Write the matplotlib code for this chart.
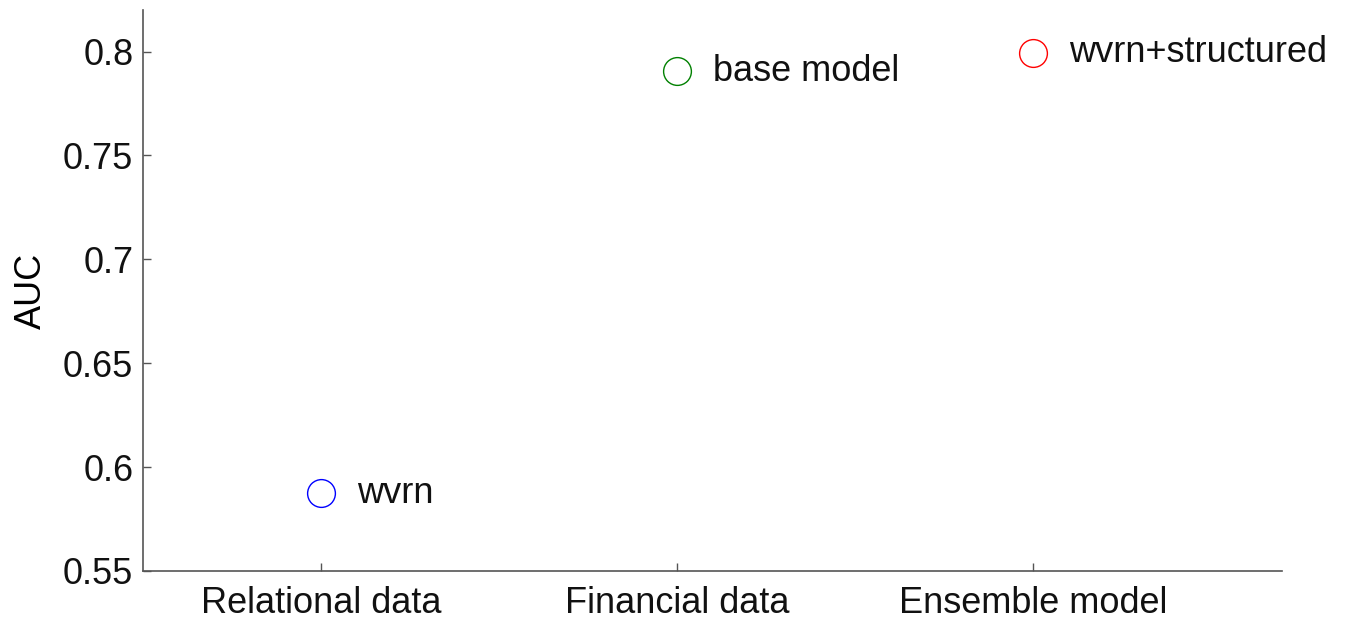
import matplotlib
matplotlib.use("Agg")
import matplotlib.pyplot as plt

plt.rcParams['font.family'] = ['Liberation Sans', 'DejaVu Sans']

categories = ["Relational data", "Financial data", "Ensemble model"]
auc_values = [0.5874, 0.7905, 0.7995]
model_names = ["wvrn", "base model", "wvrn+structured"]
marker_colors = ["#0000ff", "#008000", "#ff0000"]
y_ticks = [0.55, 0.6, 0.65, 0.7, 0.75, 0.8]
y_tick_labels = ["0.55", "0.6", "0.65", "0.7", "0.75", "0.8"]

FS = 26

fig = plt.figure(figsize=(13.45, 6.22), dpi=100)
ax = fig.add_axes([0.1063, 0.082, 0.8469, 0.902])

positions = list(range(1, len(categories) + 1))
for x, y, name, c in zip(positions, auc_values, model_names, marker_colors):
    ax.plot([x], [y], linestyle='none', marker='o', markersize=20,
            markerfacecolor='none', markeredgecolor=c, markeredgewidth=1.0)
    ax.annotate(name, (x, y), xytext=(26, 0), textcoords='offset points',
                ha='left', va='center', fontsize=FS, color='#111111')

ax.set_xlim(0.5, 3.7)
ax.set_ylim(0.55, 0.82)
ax.set_xticks(positions)
ax.set_xticklabels(categories, fontsize=FS)
ax.set_yticks(y_ticks)
ax.set_yticklabels(y_tick_labels, fontsize=FS)
ax.set_ylabel("AUC", fontsize=FS, labelpad=10)

for side in ('top', 'right'):
    ax.spines[side].set_visible(False)
for side in ('left', 'bottom'):
    ax.spines[side].set_color('#555555')
    ax.spines[side].set_linewidth(1.2)
ax.tick_params(direction='in', length=6, width=1.0, color='#555555',
               labelcolor='#111111')
ax.tick_params(axis='y', pad=7)
ax.tick_params(axis='x', pad=11)

fig.savefig("out.png", dpi=100)
